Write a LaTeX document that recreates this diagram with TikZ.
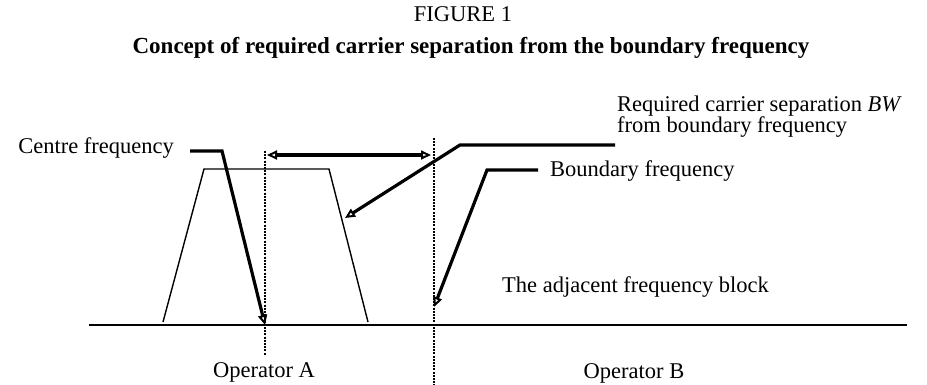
\documentclass[tikz,border=0pt]{standalone}
\usepackage{fontspec}
\setmainfont{Liberation Serif}
\usetikzlibrary{arrows.meta}
\begin{document}
\begin{tikzpicture}[x=1pt,y=-1pt,
  >={Triangle[open,length=10pt,width=9pt,line width=2pt]},
  lbl/.style={inner sep=0pt,font=\fontsize{22.5}{20}\selectfont},
  leader/.style={line width=3.2pt,line join=miter,->},
  dotline/.style={line width=2.6pt,dash pattern=on 2pt off 1.2pt},
  spec/.style={line width=1.4pt,line join=miter},
  base/.style={line width=2.2pt}]
\useasboundingbox (0,0) rectangle (927,385);
% titles
\node[lbl,anchor=base] (fig) at (463,22) {FIGURE 1};
\node[lbl,anchor=base,font=\fontsize{23}{20}\selectfont\bfseries] (title) at (471,54) {Concept of required carrier separation from the boundary frequency};
% baseline
\coordinate (bl0) at (89,325);
\coordinate (bl1) at (907,325);
\draw[base] (bl0) -- (bl1);
% spectrum trapezoid
\coordinate (t1) at (163,322);
\coordinate (t2) at (204,169);
\coordinate (t3) at (329,169);
\coordinate (t4) at (368,322);
\draw[spec] (t1) -- (t2) -- (t3) -- (t4);
% dotted lines
\coordinate (dA0) at (265,151);
\coordinate (dA1) at (265,355);
\coordinate (dB0) at (434,138);
\coordinate (dB1) at (434,385);
\draw[dotline] (dA0) -- (dA1);
\draw[dotline] (dB0) -- (dB1);
% separation arrow (double headed)
\coordinate (sA) at (267,155);
\coordinate (sB) at (431,155);
\coordinate (sM) at (349,155);
\draw[leader] (sM) -- (sA);
\draw[leader] (sM) -- (sB);
% labels
\node[lbl,anchor=base east] (cf) at (174,154) {Centre frequency};
\node[lbl,anchor=base west,align=left] (req) at (617,133) {Required carrier separation \textit{BW}\\from boundary frequency};
\node[lbl,anchor=base west] (bf) at (550,177) {Boundary frequency};
\node[lbl,anchor=base west] (adj) at (502,292) {The adjacent frequency block};
\node[lbl,anchor=base] (opA) at (264,377) {Operator A};
\node[lbl,anchor=base] (opB) at (634,378) {Operator B};
% leaders
\coordinate (cf1) at (190,151);
\coordinate (cf2) at (222,151);
\coordinate (cfT) at (265,325);
\draw[leader] (cf1) -- (cf2) -- (cfT);
\coordinate (rq1) at (615,145);
\coordinate (rq2) at (460,145);
\coordinate (rqT) at (345,218);
\draw[leader] (rq1) -- (rq2) -- (rqT);
\coordinate (bf1) at (538,170);
\coordinate (bf2) at (487,170);
\coordinate (bfT) at (434,307);
\draw[leader] (bf1) -- (bf2) -- (bfT);
\end{tikzpicture}
\end{document}
